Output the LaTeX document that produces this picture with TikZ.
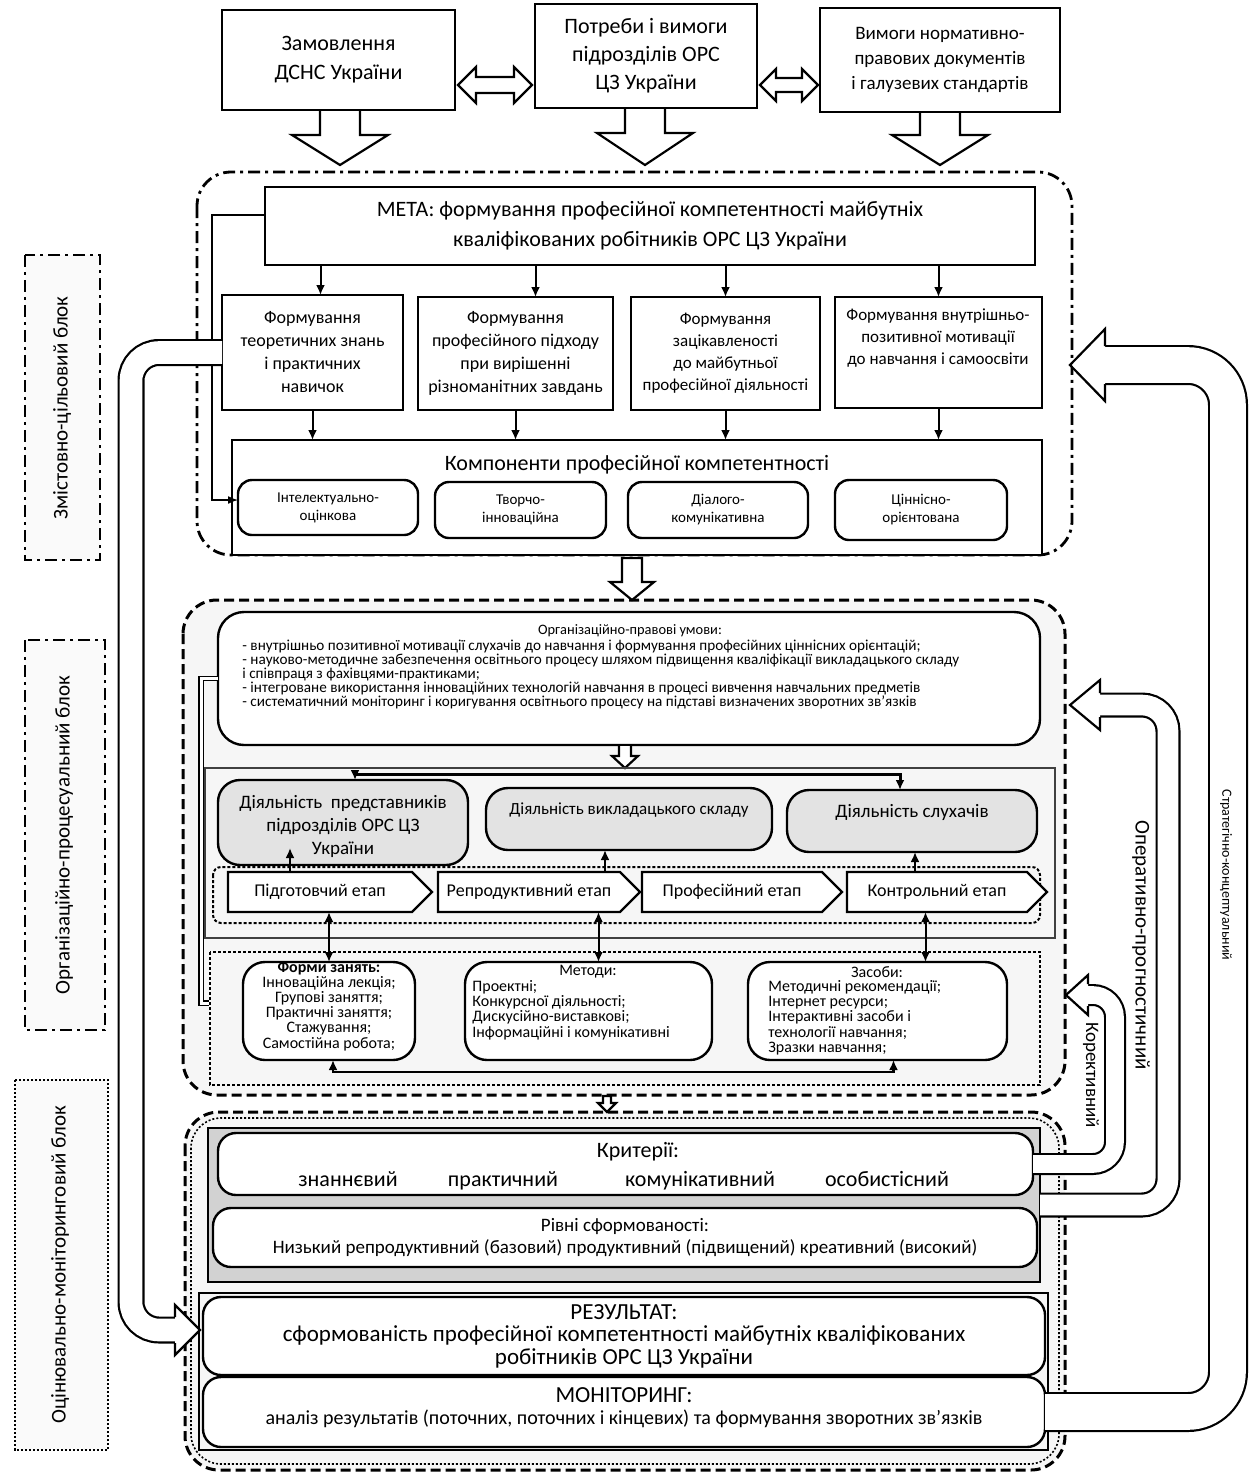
\documentclass[tikz,border=0pt]{standalone}
\usepackage{fontspec}
\setmainfont{Carlito}
\usetikzlibrary{fit,arrows.meta,shapes.symbols}
\newcommand\fsz[2]{\fontsize{#1}{#2}\selectfont}
\newcommand\tx[3]{\node[lbl, font=#2] (#1t) at (#1.center) {#3};}
\tikzset{
 bx/.style={draw, line width=1.2pt, inner sep=0pt, outer sep=0pt, align=center, fill=white},
 rbx/.style={bx, rounded corners=7pt},
 gbx/.style={rbx, fill=gray!22},
 stagebox/.style={draw, line width=1.1pt, fill=white, signal, signal to=east, inner sep=0pt, outer sep=0pt, minimum height=20pt, font=\fsz{9}{10}},
 conn/.style={line width=1pt, -{Latex[length=5pt,width=4.5pt]}},
 biconn/.style={line width=1pt, {Latex[length=5pt,width=4.5pt]}-{Latex[length=5pt,width=4.5pt]}},
 hol/.style={draw, line width=1.1pt, fill=white, line join=miter},
 dd/.style={dash pattern=on 6pt off 2.5pt on 1.5pt off 2.5pt},
 bigarr/.style={double=white, line width=1.1pt},
 lbl/.style={inner sep=0pt, align=center},
}
\begin{document}
\begin{tikzpicture}[x=0.5pt,y=-0.5pt]
\useasboundingbox (0,0) rectangle (1254,1473);
% ---------- blocks
\draw[dd, line width=1.4pt, rounded corners=17pt] (197,172) rectangle (1072,555);
\draw[dash pattern=on 5pt off 2.5pt, line width=1.5pt, rounded corners=17pt, fill=gray!7] (183,600) rectangle (1065,1095);
\draw[dash pattern=on 5pt off 2.5pt, line width=1.5pt, rounded corners=17pt, fill=gray!7] (185,1112) rectangle (1065,1470);
\draw[dash pattern=on 1pt off 1pt, line width=0.8pt, rounded corners=15pt] (191,1118) rectangle (1059,1464);

% ---------- left labels
\draw[dd, line width=1.3pt, fill=gray!4] (25,255) rectangle (100,560);
\node[rotate=90, font=\fsz{10.5}{12}] (l1) at (62,408) {Змістовно-цільовий блок};
\draw[dd, line width=1.3pt, fill=gray!4] (25,640) rectangle (105,1030);
\node[rotate=90, font=\fsz{10.5}{12}] (l2) at (64,835) {Організаційно-процесуальний блок};
\draw[dash pattern=on 1.2pt off 0.8pt, line width=1.3pt, fill=gray!4] (15,1080) rectangle (108,1450);
\node[rotate=90, font=\fsz{10.5}{12}] (l3) at (60,1265) {Оцінювально-моніторинговий блок};

% ---------- top boxes
\node[bx, fit={(222,10)(455,110)}] (b1) {};
\tx{b1}{\fsz{11}{14.5}}{Замовлення\\ДСНС України}
\node[bx, fit={(535,4)(757,108)}] (b2) {};
\tx{b2}{\fsz{11}{14}}{Потреби і вимоги\\підрозділів ОРС\\ЦЗ України}
\node[bx, fit={(820,8)(1060,112)}] (b3) {};
\tx{b3}{\fsz{9.5}{12.5}}{Вимоги нормативно-\\правових документів\\і галузевих стандартів}
\draw[hol] (458,85) -- (476,67) -- (476,77) -- (514,77) -- (514,67) -- (532,85) -- (514,103) -- (514,93) -- (476,93) -- (476,103) -- cycle;
\draw[hol] (760,85) -- (776,69) -- (776,78) -- (802,78) -- (802,69) -- (818,85) -- (802,101) -- (802,92) -- (776,92) -- (776,101) -- cycle;
\draw[hol] (320,111) -- (320,135) -- (292,135) -- (340,165) -- (388,135) -- (360,135) -- (360,111);
\draw[hol] (625,109) -- (625,133) -- (597,133) -- (645,165) -- (693,133) -- (665,133) -- (665,109);
\draw[hol] (920,113) -- (920,135) -- (892,135) -- (940,165) -- (988,135) -- (960,135) -- (960,113);

% ---------- block 1
\node[bx, fit={(265,187)(1035,265)}] (meta) {};
\tx{meta}{\fsz{11}{15}}{МЕТА: формування професійної компетентності майбутніх\\кваліфікованих робітників ОРС ЦЗ України}
\node[bx, fit={(222,295)(403,410)}] (fa) {};
\tx{fa}{\fsz{9}{11.5}}{Формування\\теоретичних знань\\і практичних\\навичок}
\node[bx, fit={(418,297)(613,410)}] (fb) {};
\tx{fb}{\fsz{9}{11.5}}{Формування\\професійного підходу\\при вирішенні\\різноманітних завдань}
\node[bx, fit={(631,297)(820,410)}] (fc) {};
\tx{fc}{\fsz{8.5}{11}}{Формування\\зацікавленості\\до майбутньої\\професійної діяльності}
\node[bx, fit={(835,297)(1042,408)}] (fd) {};
\node[lbl, font=\fsz{8.5}{11}] (fdt) at (938,338) {Формування внутрішньо-\\позитивної мотивації\\до навчання і самоосвіти};
\draw[conn] ([xshift=4pt]fa.north |- meta.south) -- ([xshift=4pt]fa.north);
\draw[conn] ([xshift=10pt]fb.north |- meta.south) -- ([xshift=10pt]fb.north);
\draw[conn] (fc.north |- meta.south) -- (fc.north);
\draw[conn] (fd.north |- meta.south) -- (fd.north);

\node[bx, fit={(232,440)(1042,555)}] (comp) {};
\node[lbl, font=\fsz{11}{13}] (compt) at (637,465) {Компоненти професійної компетентності};
\node[rbx, fit={(238,480)(418,535)}] (c1) {};
\tx{c1}{\fsz{7.5}{9}}{Інтелектуально-\\оцінкова}
\node[rbx, fit={(435,482)(606,538)}] (c2) {};
\tx{c2}{\fsz{7.5}{9}}{Творчо-\\інноваційна}
\node[rbx, fit={(628,482)(808,538)}] (c3) {};
\tx{c3}{\fsz{7.5}{9}}{Діалого-\\комунікативна}
\node[rbx, fit={(835,480)(1007,540)}] (c4) {};
\tx{c4}{\fsz{7.5}{9}}{Ціннісно-\\орієнтована}
\draw[conn] (fa.south) -- (fa.south |- comp.north);
\draw[conn] (fb.south) -- (fb.south |- comp.north);
\draw[conn] (fc.south) -- (fc.south |- comp.north);
\draw[conn] (fd.south) -- (fd.south |- comp.north);
\coordinate (mL) at (212,215);
\coordinate (mB) at (212,500);
\draw[line width=0.7pt, -{Latex[length=5pt,width=4pt]}] (meta.west |- mL) -- (mL) -- (mB) -- (c1.west |- mB);

\draw[hol] (622,558) -- (622,582) -- (610,582) -- (632,600) -- (654,582) -- (642,582) -- (642,558) -- cycle;

% ---------- block 2
\node[bx, rounded corners=13pt, fit={(218,612)(1040,745)}] (org) {};
\node[lbl, font=\fsz{7.2}{8}] (orgt) at (630,631) {Організаційно-правові умови:};
\node[lbl, anchor=north west, align=left, font=\fsz{7.6}{6.9}] (orgl) at (242,640) {- внутрішньо позитивної мотивації слухачів до навчання і формування професійних ціннісних орієнтацій;\\
- науково-методичне забезпечення освітнього процесу шляхом підвищення кваліфікації викладацького складу\\
і співпраця з фахівцями-практиками;\\
- інтегроване використання інноваційних технологій навчання в процесі вивчення навчальних предметів\\
- систематичний моніторинг і коригування освітнього процесу на підставі визначених зворотних зв'язків};
\draw[hol] (619,746) -- (619,756) -- (612,756) -- (625,768) -- (638,756) -- (631,756) -- (631,746);

\draw[line width=1.2pt, draw=black!75] (205,768) rectangle (1055,938);
\node[gbx, rounded corners=11pt, fit={(218,780)(468,865)}] (a1) {};
\node[lbl, font=\fsz{9.5}{11.5}] (a1t) at (343,826) {Діяльність\ \ представників\\підрозділів ОРС ЦЗ\\України};
\node[gbx, rounded corners=11pt, fit={(486,788)(772,850)}] (a2) {};
\node[lbl, font=\fsz{8.5}{10}] (a2t) at (629,810) {Діяльність викладацького складу};
\node[gbx, rounded corners=11pt, fit={(787,790)(1037,852)}] (a3) {};
\node[lbl, font=\fsz{9.5}{11}] (a3t) at (912,812) {Діяльність слухачів};
\draw[line width=1.5pt, {Latex[length=5pt,width=4.5pt]}-{Latex[length=5pt,width=4.5pt]}] ([xshift=6pt]a1.north) -- ++(0,-6) -| ([xshift=-6pt]a3.north);

\draw[dash pattern=on 1.5pt off 1pt, line width=1pt, rounded corners=4pt] (213,867) rectangle (1040,923);
\node[stagebox, minimum width=102pt] (s1) at (320,892) {Підготовчий етап};
\node[stagebox, minimum width=101pt] (s2) at (529,892) {Репродуктивний етап};
\node[stagebox, minimum width=100pt] (s3) at (732,892) {Професійний етап};
\node[stagebox, minimum width=100pt] (s4) at (937,892) {Контрольний етап};
\draw[conn] ([xshift=-15pt]s1.north) -- ++(0,-24);
\draw[conn] ([xshift=38pt]s2.north) -- ++(0,-22);
\draw[conn] ([xshift=-11pt]s4.north) -- ++(0,-20);

\draw[dash pattern=on 1.5pt off 1pt, line width=1pt] (210,952) rectangle (1040,1085);
\node[rbx, rounded corners=11pt, fit={(243,962)(415,1060)}] (f1) {};
\node[lbl, font=\fsz{8}{7.6}] (f1t) at (329,1006) {\textbf{Форми занять:}\\Інноваційна лекція;\\Групові заняття;\\Практичні заняття;\\Стажування;\\Самостійна робота;};
\node[rbx, rounded corners=11pt, fit={(465,962)(712,1060)}] (f2) {};
\node[lbl, font=\fsz{8}{7.6}] (f2t) at (588,972) {Методи:};
\node[lbl, anchor=north west, align=left, font=\fsz{8}{7.6}] (f2l) at (472,980) {Проектні;\\Конкурсної діяльності;\\Дискусійно-виставкові;\\Інформаційні і комунікативні};
\node[rbx, rounded corners=11pt, fit={(748,962)(1007,1060)}] (f3) {};
\node[lbl, font=\fsz{8}{7.6}] (f3t) at (877,972) {Засоби:};
\node[lbl, anchor=north west, align=left, font=\fsz{8}{7.6}] (f3l) at (768,980) {Методичні рекомендації;\\Інтернет ресурси;\\Інтерактивні засоби і\\технології навчання;\\Зразки навчання;};
\draw[biconn] (f1.north) -- (f1.north |- s1.south);
\draw[biconn] ([xshift=5pt]f2.north) -- ([xshift=5pt]f2.north |- s2.south);
\draw[biconn] ([xshift=24pt]f3.north) -- ([xshift=24pt]f3.north |- s4.south);
\draw[line width=1.3pt, {Latex[length=5pt,width=4.5pt]}-{Latex[length=5pt,width=4.5pt]}] ([xshift=2pt]f1.south) -- ++(0,12) -| ([xshift=8pt]f3.south);
\coordinate (oB) at (201,1003);
\draw[double, double distance=1.5pt, line width=0.6pt] (org.west) -| (oB) -- ++(8,0);

\draw[hol] (603,1096) -- (603,1103) -- (598,1103) -- (607,1112) -- (616,1103) -- (611,1103) -- (611,1096) -- cycle;

% ---------- block 3
\node[bx, fill=gray!35, fit={(208,1128)(1040,1282)}] (crit) {};
\node[rbx, rounded corners=9pt, fit={(218,1133)(1033,1195)}] (cr) {};
\node[lbl, font=\fsz{11}{13}] (crt) at (638,1152) {Критерії:};
\node[lbl, anchor=base, font=\fsz{11}{13}] (k1) at (348,1186) {знаннєвий};
\node[lbl, anchor=base, font=\fsz{11}{13}] (k2) at (503,1186) {практичний};
\node[lbl, anchor=base, font=\fsz{11}{13}] (k3) at (700,1186) {комунікативний};
\node[lbl, anchor=base, font=\fsz{11}{13}] (k4) at (887,1186) {особистісний};
\node[rbx, rounded corners=9pt, fit={(213,1208)(1037,1267)}] (lev) {};
\tx{lev}{\fsz{9.5}{11}}{Рівні сформованості:\\Низький репродуктивний (базовий) продуктивний (підвищений) креативний (високий)}

\draw[line width=1pt] (199,1293) rectangle (1048,1450);
\node[rbx, rounded corners=9pt, fit={(203,1297)(1045,1375)}] (res) {};
\tx{res}{\fsz{11.5}{11.2}}{РЕЗУЛЬТАТ:\\сформованість професійної компетентності майбутніх кваліфікованих\\робітників ОРС ЦЗ України}
\node[rbx, rounded corners=9pt, fit={(203,1377)(1045,1447)}] (mon) {};
\node[lbl, font=\fsz{11.5}{13}] (mont) at (624,1395) {МОНІТОРИНГ:};
\node[lbl, font=\fsz{10}{12}] (monl) at (624,1419) {аналіз результатів (поточних, поточних і кінцевих) та формування зворотних зв'язків};

% ---------- big feedback arrows
\coordinate (lc) at (131,1330);
\draw[bigarr, double distance=11.3pt, rounded corners=14pt] (fa.west) -| (lc) -- (175,1330);
\draw[hol] (175,1317) -- (175,1305) -- (200,1330) -- (175,1355) -- (175,1343);

\coordinate (sc) at (1228,365);
\draw[bigarr, double distance=17.8pt, rounded corners=20pt] (mon.east) -| (sc) -- (1105,365);
\draw[hol] (1105,346) -- (1105,329) -- (1070,365) -- (1105,401) -- (1105,384);
\node[rotate=-90, font=\fsz{7}{8}] (strl) at (1226,875) {Стратегічно-концептуальний};

\coordinate (oc) at (1168,705);
\draw[bigarr, double distance=10.3pt, rounded corners=13pt] (crit.east) -| (oc) -- (1100,705);
\draw[hol] (1100,693) -- (1100,680) -- (1070,705) -- (1100,730) -- (1100,717);
\node[rotate=-90, font=\fsz{10.5}{12}] (opl) at (1141,945) {Оперативно-прогностичний};

\coordinate (kc) at (1115,995);
\draw[bigarr, double distance=8.8pt, rounded corners=11pt] (cr.east) -| (kc) -- (1088,995);
\draw[hol] (1088,984) -- (1088,975) -- (1066,995) -- (1088,1015) -- (1088,1006);
\node[rotate=-90, font=\fsz{9.5}{11}] (kl) at (1091,1075) {Корективний};
\end{tikzpicture}
\end{document}
